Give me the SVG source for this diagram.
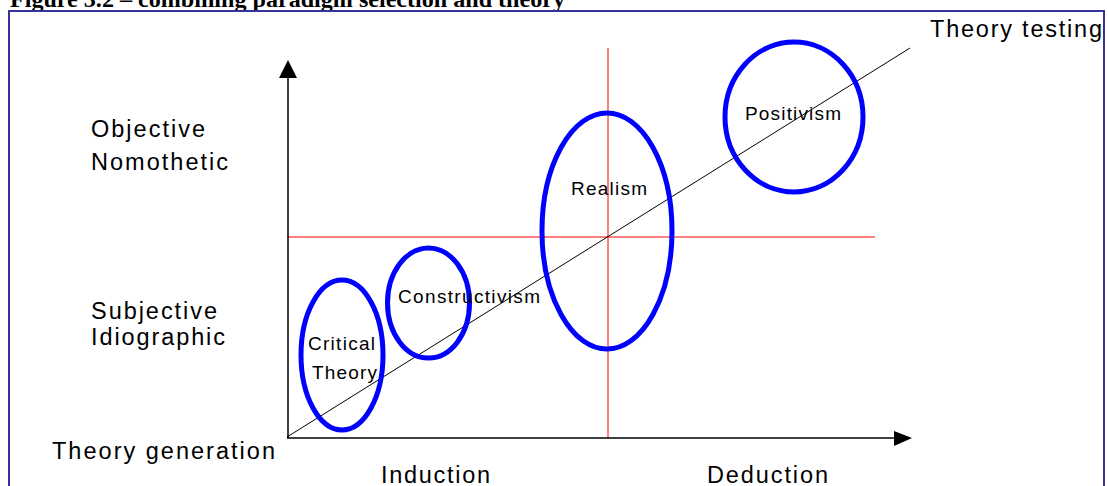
<svg xmlns="http://www.w3.org/2000/svg" width="1108" height="486" viewBox="0 0 1108 486">
<style>
.t{font-family:"Liberation Sans",Arial,sans-serif;fill:#000}
.big{font-size:23.5px}
.sm{font-size:19px}
.ell{fill:none;stroke:#0000ff;stroke-width:5}
.ax{stroke:#000;stroke-width:1.5;fill:none}
.red{stroke:#ff0000;stroke-width:1;fill:none}
</style>
<rect width="1108" height="486" fill="#fff"/>
<text x="10" y="7" font-family="'Liberation Serif','Times New Roman',serif" font-weight="bold" font-size="24" textLength="555" lengthAdjust="spacingAndGlyphs">Figure 3.2 – combining paradigm selection and theory</text>
<rect x="9" y="11" width="1095" height="500" fill="none" stroke="#333399" stroke-width="2"/>
<g id="connectors">
<line class="red" x1="287" y1="237" x2="875" y2="237"/>
<line class="red" x1="608" y1="48" x2="608" y2="438"/>
<line class="ax" x1="288" y1="438" x2="288" y2="75"/>
<polygon points="288,60 297,78 279,78" fill="#000"/>
<line class="ax" x1="287" y1="438" x2="896" y2="438"/>
<polygon points="912,438 894,431 894,446" fill="#000"/>
<line x1="287" y1="437" x2="910" y2="48" stroke="#000" stroke-width="1"/>
</g>
<g id="critical-theory">
<ellipse class="ell" cx="342" cy="355" rx="41" ry="75"/>
<text class="t sm" x="308" y="350" textLength="67" lengthAdjust="spacing">Critical</text>
<text class="t sm" x="312" y="379" textLength="65" lengthAdjust="spacing">Theory</text>
</g>
<g id="constructivism">
<ellipse class="ell" cx="428.5" cy="303" rx="41" ry="55"/>
<text class="t sm" x="398" y="303" textLength="142" lengthAdjust="spacing">Constructivism</text>
</g>
<g id="realism">
<ellipse class="ell" cx="607" cy="231" rx="65" ry="118"/>
<text class="t sm" x="571" y="195" textLength="76" lengthAdjust="spacing">Realism</text>
</g>
<g id="positivism">
<ellipse class="ell" cx="794" cy="117" rx="69" ry="75"/>
<text class="t sm" x="745" y="120" textLength="96" lengthAdjust="spacing">Positivism</text>
</g>
<g id="labels">
<text class="t big" x="930" y="37" textLength="172" lengthAdjust="spacing">Theory testing</text>
<text class="t big" x="91" y="137" textLength="114" lengthAdjust="spacing">Objective</text>
<text class="t big" x="91" y="170" textLength="137" lengthAdjust="spacing">Nomothetic</text>
<text class="t big" x="91" y="319" textLength="126" lengthAdjust="spacing">Subjective</text>
<text class="t big" x="91" y="345" textLength="134" lengthAdjust="spacing">Idiographic</text>
<text class="t big" x="52" y="459" textLength="223" lengthAdjust="spacing">Theory generation</text>
<text class="t big" x="381" y="483" textLength="109" lengthAdjust="spacing">Induction</text>
<text class="t big" x="707" y="483" textLength="121" lengthAdjust="spacing">Deduction</text>
</g>
</svg>
